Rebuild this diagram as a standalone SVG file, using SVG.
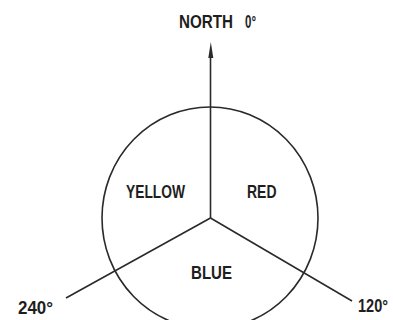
<svg xmlns="http://www.w3.org/2000/svg" width="393" height="320" viewBox="0 0 393 320">
<style>
.ln{stroke:#2a2a2a;stroke-width:1.6;fill:none}
.t{font-family:"Liberation Sans",Arial,sans-serif;font-weight:bold;font-size:17.5px;fill:#1e1e1e}
</style>
<rect width="393" height="320" fill="#fff"/>
<g id="circle">
<ellipse class="ln" cx="210" cy="218" rx="108" ry="111"/>
</g>
<g id="connectors">
<line class="ln" x1="210.5" y1="218" x2="210.5" y2="56"/>
<path d="M210.8 42 L213.3 58 L208.3 58 Z" fill="#2a2a2a"/>
<line class="ln" x1="210.5" y1="218" x2="66" y2="298"/>
<line class="ln" x1="210.5" y1="218" x2="352" y2="301"/>
</g>
<g id="north">
<text class="t" x="179" y="28" textLength="54" lengthAdjust="spacingAndGlyphs">NORTH</text>
<text class="t" x="245" y="28" textLength="11" lengthAdjust="spacingAndGlyphs">0°</text>
</g>
<g id="yellow"><text class="t" x="126" y="198" textLength="59" lengthAdjust="spacingAndGlyphs">YELLOW</text></g>
<g id="red"><text class="t" x="247" y="198" textLength="29.5" lengthAdjust="spacingAndGlyphs">RED</text></g>
<g id="blue"><text class="t" x="191" y="278.5" textLength="41" lengthAdjust="spacingAndGlyphs">BLUE</text></g>
<g id="deg240"><text class="t" x="18" y="314" textLength="35" lengthAdjust="spacingAndGlyphs">240°</text></g>
<g id="deg120"><text class="t" x="358" y="312" textLength="30" lengthAdjust="spacingAndGlyphs">120°</text></g>
</svg>
